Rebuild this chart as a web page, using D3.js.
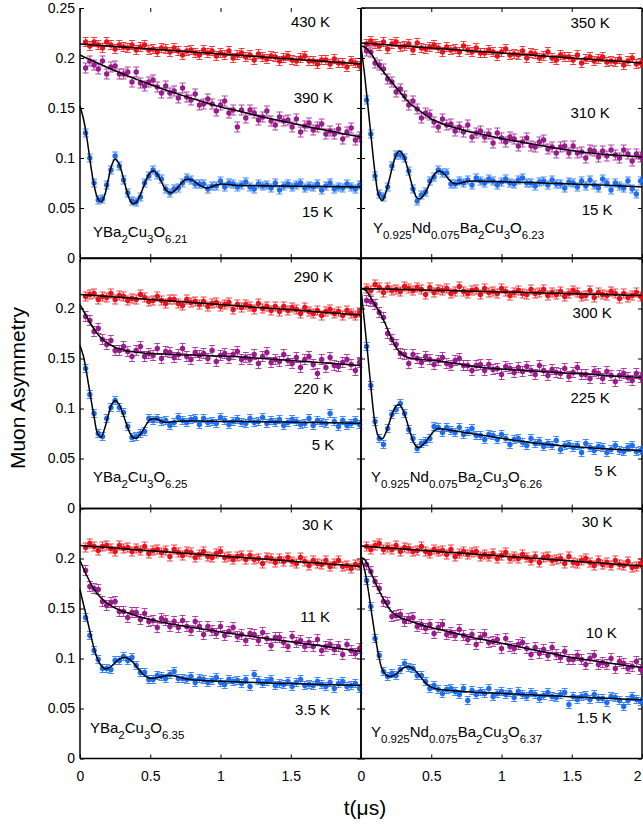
<!DOCTYPE html>
<meta charset="utf-8">
<style>
body { margin: 0; background: #fff; }
svg text { font-family: "Liberation Sans", Arial, Helvetica, sans-serif; fill: #000; }
.axis path { display: none; }
.axis line { stroke: #000; stroke-width: 1; }
.axis text { font-size: 14px; }
.frame { stroke: #000; stroke-width: 1.5; }
.fit { fill: none; stroke: #000; stroke-width: 1.5; }
.temp { font-size: 15px; }
.formula { font-size: 15px; }
.title { font-size: 21px; }
</style>
<svg width="643" height="831"></svg>
<script src="https://d3js.org/d3.v7.min.js"></script>
<script>

// time of each measured point (microseconds)
var dataTime = [0.04,0.07,0.10,0.13,0.16,0.19,0.22,0.25,0.28,0.31,0.34,0.37,0.40,0.43,0.46,0.49,0.52,0.55,0.58,0.61,0.64,0.67,0.70,0.73,0.76,0.79,0.82,0.85,0.88,0.91,0.94,0.97,1.00,1.03,1.06,1.09,1.12,1.15,1.18,1.21,1.24,1.27,1.30,1.33,1.36,1.39,1.42,1.45,1.48,1.51,1.54,1.57,1.60,1.63,1.66,1.69,1.72,1.75,1.78,1.81,1.84,1.87,1.90,1.93,1.96,1.99];
// time grids of the fitted curves
var fitTime = [0,.025,.05,.075,.1,.125,.15,.175,.2,.225,.25,.275,.3,.325,.35,.375,.4,.425,.45,.475,.5,.525,.55,.575,.6,.625,.65,.675,.7,.725,.75,.8,.85,.9,.95,1,1.1,1.2,1.3,1.4,1.5,1.6,1.7,1.8,1.9,2];
var fitTimeSlow = [0,.25,.5,.75,1,1.25,1.5,1.75,2];

var xTickValues = [0, 0.5, 1, 1.5, 2];
var xTickLabels = ["0", "0.5", "1", "1.5", "2"];
var yTickValues = [0, 0.05, 0.1, 0.15, 0.2, 0.25];
var yTickLabels = ["0", "0.05", "0.1", "0.15", "0.2", "0.25"];

var seriesColors = ["#e8141c", "#9b1b8e", "#1e6ff0"];
var errorHalf = [0.0045, 0.005, 0.004];

// ---- YBa2Cu3O6.21 ----
var redA = [.216,.212,.216,.213,.210,.216,.213,.209,.213,.211,.210,.213,.208,.211,.213,.208,.209,.206,.210,.209,.206,.210,.207,.203,.207,.208,.205,.203,.208,.205,.207,.202,.205,.203,.207,.200,.203,.205,.201,.203,.198,.204,.201,.199,.202,.201,.197,.200,.202,.198,.197,.200,.202,.197,.197,.194,.198,.198,.194,.199,.195,.195,.191,.197,.195,.192];
var purpleA = [.190,.197,.193,.189,.197,.184,.191,.192,.184,.184,.186,.176,.186,.175,.172,.176,.178,.171,.165,.172,.165,.167,.160,.170,.161,.158,.164,.153,.154,.159,.154,.147,.153,.157,.145,.148,.131,.148,.140,.148,.145,.138,.141,.147,.137,.133,.141,.137,.138,.131,.139,.126,.132,.135,.128,.131,.134,.124,.127,.124,.129,.119,.126,.130,.118,.121];
var blueA = [.125,.100,.075,.058,.059,.073,.088,.102,.092,.078,.065,.057,.056,.061,.075,.082,.088,.083,.079,.069,.065,.069,.070,.075,.080,.078,.074,.074,.074,.069,.072,.072,.077,.071,.075,.074,.071,.073,.076,.071,.069,.074,.072,.073,.070,.075,.068,.072,.074,.071,.073,.075,.070,.072,.071,.074,.068,.072,.075,.069,.071,.070,.074,.071,.069,.073];
var fitRedA = [.214,.2115,.209,.2065,.204,.2015,.199,.1965,.194];
var fitPurpleA = [.203,.2013,.1997,.1981,.1965,.195,.1934,.1918,.1903,.1888,.1873,.1859,.1844,.183,.1816,.1802,.1788,.1775,.1761,.1748,.1735,.1722,.171,.1697,.1685,.1673,.1661,.165,.1638,.1627,.1616,.1594,.1573,.1552,.1532,.151,.148,.1445,.141,.138,.135,.132,.129,.1265,.1235,.121];
var fitBlueA = [.152,.139,.119,.094,.073,.060,.056,.0625,.0775,.0925,.099,.095,.0845,.071,.0595,.0542,.0556,.0617,.0705,.0793,.0854,.0869,.0838,.0774,.0705,.0663,.0652,.0674,.0712,.0753,.0782,.0779,.0729,.070,.072,.074,.0728,.0724,.0722,.072,.0718,.0717,.0715,.0714,.0712,.071];
var tempsA = ["430 K", "390 K", "15 K"];
var formulaA = [["YBa",0],["2",1],["Cu",0],["3",1],["O",0],["6.21",1]];

// ---- Y0.925Nd0.075Ba2Cu3O6.23 ----
var redB = [.214,.217,.214,.212,.216,.209,.214,.216,.211,.212,.214,.208,.215,.210,.209,.211,.213,.210,.206,.211,.208,.209,.206,.212,.208,.206,.210,.205,.205,.208,.206,.202,.206,.209,.203,.204,.203,.207,.200,.205,.204,.200,.202,.206,.200,.198,.203,.201,.201,.198,.203,.195,.199,.201,.197,.199,.201,.196,.197,.196,.199,.193,.197,.200,.194,.195];
var purpleB = [.207,.206,.195,.193,.189,.179,.176,.166,.169,.162,.153,.157,.149,.140,.145,.143,.136,.131,.139,.133,.134,.127,.131,.126,.133,.121,.125,.127,.121,.124,.115,.125,.120,.116,.121,.119,.112,.116,.120,.112,.111,.116,.118,.109,.111,.105,.111,.112,.105,.112,.105,.106,.100,.108,.107,.101,.107,.102,.108,.103,.100,.108,.104,.097,.104,.101];
var blueB = [.158,.124,.082,.064,.061,.071,.092,.103,.103,.100,.087,.069,.057,.063,.066,.077,.081,.088,.085,.085,.074,.074,.077,.075,.078,.073,.080,.077,.075,.079,.077,.073,.076,.079,.075,.074,.078,.080,.075,.075,.072,.076,.077,.073,.078,.074,.074,.070,.076,.075,.071,.077,.072,.078,.073,.070,.079,.075,.068,.075,.072,.070,.077,.069,.064,.077];
var fitRedB = [.215,.2125,.210,.2075,.205,.2025,.200,.1975,.195];
var fitPurpleB = [.212,.211,.208,.204,.198,.192,.188,.1835,.179,.175,.1705,.1665,.162,.158,.1545,.1515,.149,.1465,.144,.1415,.139,.1375,.136,.1345,.133,.132,.131,.130,.129,.128,.127,.1255,.124,.1225,.121,.1195,.117,.1145,.112,.1095,.1075,.1055,.104,.103,.102,.101];
var fitBlueB = [.212,.184,.151,.117,.085,.063,.0575,.0648,.0776,.0919,.1029,.107,.1032,.0931,.0797,.0674,.060,.0595,.0634,.0702,.0779,.084,.0869,.0861,.0829,.0787,.0753,.074,.0746,.0756,.0766,.077,.0768,.0766,.0764,.0762,.0758,.0754,.075,.0745,.074,.0735,.073,.0725,.0718,.071];
var tempsB = ["350 K", "310 K", "15 K"];
var formulaB = [["Y",0],["0.925",1],["Nd",0],["0.075",1],["Ba",0],["2",1],["Cu",0],["3",1],["O",0],["6.23",1]];

// ---- YBa2Cu3O6.25 ----
var redC = [.212,.214,.215,.209,.212,.211,.215,.209,.213,.212,.208,.210,.209,.214,.211,.207,.208,.212,.208,.205,.209,.209,.205,.203,.209,.206,.207,.204,.207,.202,.205,.206,.202,.204,.206,.199,.204,.201,.204,.202,.199,.205,.200,.202,.198,.202,.197,.202,.198,.201,.199,.195,.201,.197,.195,.198,.193,.197,.199,.195,.197,.193,.198,.195,.193,.196];
var purpleC = [.192,.188,.177,.180,.169,.164,.168,.158,.158,.162,.157,.152,.158,.162,.152,.155,.153,.160,.150,.157,.156,.151,.154,.160,.152,.149,.156,.153,.155,.150,.158,.147,.153,.155,.150,.154,.157,.149,.151,.149,.154,.145,.152,.156,.146,.149,.147,.154,.148,.145,.151,.141,.149,.152,.144,.135,.149,.141,.151,.143,.142,.146,.149,.144,.138,.146];
var blueC = [.140,.114,.095,.075,.072,.090,.101,.108,.101,.096,.082,.071,.072,.075,.077,.090,.088,.090,.087,.088,.083,.086,.091,.088,.086,.089,.090,.084,.090,.086,.087,.085,.091,.088,.084,.087,.089,.086,.085,.090,.086,.087,.091,.085,.088,.086,.089,.083,.086,.089,.087,.084,.085,.090,.083,.088,.086,.085,.095,.087,.082,.088,.083,.085,.088,.084];
var fitRedC = [.214,.2115,.209,.2065,.204,.2013,.1987,.196,.1935];
var fitPurpleC = [.204,.1975,.191,.185,.1795,.1745,.1705,.1675,.165,.163,.161,.160,.159,.158,.157,.157,.156,.156,.1555,.155,.155,.155,.1545,.1545,.1545,.154,.154,.154,.154,.1535,.1535,.1535,.153,.153,.1525,.1525,.152,.151,.150,.149,.148,.147,.146,.145,.144,.143];
var fitBlueC = [.163,.152,.133,.112,.092,.075,.0713,.0798,.0927,.1039,.108,.1049,.097,.0867,.0771,.0711,.0703,.0734,.0788,.0846,.0889,.090,.0891,.0875,.0862,.0861,.0866,.087,.0873,.0875,.0875,.0875,.0874,.0873,.0872,.0871,.087,.0869,.0867,.0865,.0863,.0861,.0859,.0857,.0854,.0852];
var tempsC = ["290 K", "220 K", "5 K"];
var formulaC = [["YBa",0],["2",1],["Cu",0],["3",1],["O",0],["6.25",1]];

// ---- Y0.925Nd0.075Ba2Cu3O6.26 ----
var redD = [.220,.218,.224,.221,.216,.221,.218,.219,.217,.222,.220,.218,.221,.219,.214,.221,.216,.219,.218,.220,.215,.217,.222,.217,.215,.218,.219,.214,.220,.216,.217,.215,.220,.217,.213,.216,.218,.215,.214,.219,.215,.216,.219,.213,.216,.214,.217,.212,.215,.218,.216,.212,.213,.218,.211,.216,.214,.213,.217,.215,.210,.215,.211,.213,.216,.212];
var purpleD = [.208,.207,.204,.196,.191,.175,.169,.164,.155,.154,.145,.154,.150,.146,.152,.149,.144,.148,.151,.145,.143,.148,.150,.143,.143,.138,.143,.144,.138,.144,.139,.140,.134,.142,.140,.136,.141,.137,.142,.138,.134,.143,.138,.133,.139,.136,.135,.140,.132,.136,.141,.134,.134,.130,.137,.135,.130,.137,.133,.127,.133,.135,.131,.128,.135,.131];
var blueD = [.162,.123,.087,.070,.064,.080,.094,.099,.105,.095,.079,.070,.060,.065,.067,.070,.082,.081,.076,.081,.078,.076,.081,.074,.077,.080,.073,.073,.069,.074,.073,.069,.074,.070,.064,.069,.070,.066,.063,.070,.065,.067,.062,.065,.063,.068,.059,.063,.064,.061,.063,.056,.065,.061,.058,.062,.061,.056,.059,.063,.058,.057,.061,.063,.057,.058];
var fitRedD = [.220,.2192,.2183,.2175,.2166,.2157,.2148,.214,.213];
var fitPurpleD = [.220,.219,.2155,.2095,.2035,.198,.1915,.184,.1755,.1675,.161,.1565,.1535,.1515,.1505,.150,.1495,.149,.1488,.1485,.1482,.1479,.1476,.1473,.1465,.146,.1455,.145,.1445,.1438,.1432,.142,.1412,.1406,.140,.1395,.1386,.1377,.1368,.136,.1352,.1344,.1335,.1326,.1318,.131];
var fitBlueD = [.220,.186,.151,.115,.085,.072,.0695,.0752,.0852,.0956,.1026,.1036,.098,.0877,.0759,.066,.0612,.0618,.0648,.0694,.0743,.0782,.080,.0796,.079,.0785,.078,.0774,.0769,.0763,.0757,.0745,.0734,.0724,.0713,.0702,.0681,.0661,.0644,.0631,.0619,.0609,.060,.0592,.0585,.0578];
var tempsD = ["300 K", "225 K", "5 K"];
var formulaD = [["Y",0],["0.925",1],["Nd",0],["0.075",1],["Ba",0],["2",1],["Cu",0],["3",1],["O",0],["6.26",1]];

// ---- YBa2Cu3O6.35 ----
var redE = [.211,.215,.212,.208,.212,.213,.210,.207,.213,.210,.211,.207,.210,.208,.212,.205,.208,.209,.206,.208,.202,.209,.206,.203,.207,.206,.201,.204,.207,.202,.201,.205,.207,.201,.202,.199,.202,.203,.199,.203,.199,.200,.195,.201,.200,.196,.200,.197,.201,.197,.195,.201,.197,.193,.198,.195,.194,.198,.192,.195,.198,.192,.193,.190,.194,.193];
var purpleE = [.188,.172,.170,.169,.157,.153,.156,.157,.147,.147,.141,.146,.146,.139,.145,.137,.138,.131,.140,.138,.132,.137,.131,.138,.132,.128,.137,.132,.124,.132,.128,.125,.132,.123,.127,.131,.122,.124,.118,.125,.124,.118,.126,.120,.113,.121,.121,.116,.112,.122,.116,.118,.112,.116,.112,.119,.108,.112,.114,.109,.112,.104,.114,.108,.105,.110];
var blueE = [.141,.123,.108,.099,.090,.090,.089,.098,.098,.102,.098,.101,.093,.086,.086,.079,.079,.083,.082,.080,.084,.087,.080,.080,.079,.082,.076,.080,.079,.076,.078,.081,.076,.074,.079,.077,.078,.075,.079,.072,.084,.078,.075,.077,.079,.073,.075,.074,.077,.072,.076,.079,.073,.074,.073,.077,.074,.072,.076,.070,.075,.077,.072,.073,.075,.070];
var fitRedE = [.213,.2104,.2078,.2052,.2026,.2000,.1974,.1948,.192];
var fitPurpleE = [.198,.190,.1825,.1755,.1695,.1645,.1605,.1573,.1546,.1524,.1505,.1489,.1475,.1462,.145,.1439,.1428,.1418,.1408,.1399,.139,.1382,.1374,.1366,.1359,.1352,.1345,.1339,.1333,.1327,.1321,.131,.1299,.1289,.1279,.1265,.1245,.1225,.1205,.1186,.1167,.1148,.1129,.111,.109,.107];
var fitBlueE = [.169,.154,.1395,.1245,.110,.0995,.093,.0898,.0902,.0925,.0958,.0988,.1007,.101,.0995,.0965,.0925,.088,.084,.0815,.0803,.0802,.0808,.0817,.0825,.083,.083,.0825,.0816,.0806,.0798,.0788,.0782,.0778,.0775,.0772,.0767,.0762,.0757,.0753,.0749,.0745,.0741,.0737,.0734,.073];
var tempsE = ["30 K", "11 K", "3.5 K"];
var formulaE = [["YBa",0],["2",1],["Cu",0],["3",1],["O",0],["6.35",1]];

// ---- Y0.925Nd0.075Ba2Cu3O6.37 ----
var redF = [.212,.209,.213,.215,.209,.211,.209,.213,.207,.211,.210,.207,.208,.212,.207,.205,.209,.207,.208,.204,.209,.202,.205,.207,.204,.206,.207,.202,.204,.202,.205,.200,.203,.206,.200,.202,.200,.204,.201,.198,.202,.196,.201,.202,.198,.199,.200,.195,.202,.196,.195,.198,.200,.196,.193,.198,.194,.196,.193,.198,.194,.193,.197,.191,.192,.195];
var purpleF = [.194,.187,.177,.170,.157,.156,.142,.143,.144,.137,.140,.141,.132,.134,.130,.134,.125,.131,.134,.124,.126,.123,.129,.123,.119,.124,.114,.121,.124,.116,.117,.119,.110,.120,.112,.110,.114,.116,.110,.104,.111,.105,.109,.103,.111,.104,.101,.107,.099,.099,.103,.099,.094,.100,.103,.094,.096,.094,.100,.090,.097,.095,.090,.092,.097,.089];
var blueF = [.178,.152,.120,.103,.087,.082,.085,.083,.089,.095,.091,.090,.083,.083,.077,.070,.073,.069,.065,.069,.070,.067,.064,.070,.058,.068,.064,.067,.065,.070,.062,.065,.067,.064,.066,.061,.067,.064,.062,.066,.064,.060,.063,.066,.062,.061,.064,.066,.054,.062,.059,.062,.063,.059,.064,.060,.060,.056,.062,.061,.058,.052,.058,.062,.059,.057];
var fitRedF = [.2125,.210,.2075,.205,.2025,.200,.1975,.195,.1925];
var fitPurpleF = [.201,.199,.1925,.1845,.1765,.169,.162,.1555,.150,.146,.1432,.1413,.1398,.1386,.1374,.1362,.135,.1339,.1328,.1318,.1309,.130,.1292,.1284,.1276,.1268,.126,.1252,.1243,.1235,.1226,.1208,.1194,.118,.1166,.1153,.1125,.1095,.1066,.1038,.101,.0988,.0967,.0947,.0928,.091];
var fitBlueF = [.201,.189,.170,.146,.123,.1035,.0895,.084,.082,.0825,.0845,.0875,.0903,.0918,.0915,.0895,.086,.0815,.077,.0736,.0713,.070,.0693,.0688,.0684,.0681,.0678,.0675,.0672,.067,.0667,.0663,.0659,.0656,.0653,.065,.0644,.0637,.063,.0624,.0617,.0611,.0605,.0599,.0593,.0588];
var tempsF = ["30 K", "10 K", "1.5 K"];
var formulaF = [["Y",0],["0.925",1],["Nd",0],["0.075",1],["Ba",0],["2",1],["Cu",0],["3",1],["O",0],["6.37",1]];

// layout
var colX = [80, 361], panelW = 281;
var rowY = [8, 258.5, 508.5], panelH = 250;

var panels = [
  {row: 0, col: 0, series: [redA, purpleA, blueA], fits: [fitRedA, fitPurpleA, fitBlueA],
   temps: tempsA, tempAt: [[1.78, .231], [1.80, .155], [1.80, .041]], formula: formulaA, formulaAt: [.093, .021]},
  {row: 0, col: 1, series: [redB, purpleB, blueB], fits: [fitRedB, fitPurpleB, fitBlueB],
   temps: tempsB, tempAt: [[1.77, .230], [1.77, .140], [1.79, .043]], formula: formulaB, formulaAt: [.085, .025]},
  {row: 1, col: 0, series: [redC, purpleC, blueC], fits: [fitRedC, fitPurpleC, fitBlueC],
   temps: tempsC, tempAt: [[1.80, .2265], [1.80, .1145], [1.81, .0585]], formula: formulaC, formulaAt: [.093, .0265]},
  {row: 1, col: 1, series: [redD, purpleD, blueD], fits: [fitRedD, fitPurpleD, fitBlueD],
   temps: tempsD, tempAt: [[1.785, .1905], [1.77, .1055], [1.82, .0325]], formula: formulaD, formulaAt: [.071, .0265]},
  {row: 2, col: 0, series: [redE, purpleE, blueE], fits: [fitRedE, fitPurpleE, fitBlueE],
   temps: tempsE, tempAt: [[1.80, .2285], [1.78, .1365], [1.78, .0435]], formula: formulaE, formulaAt: [.071, .0255]},
  {row: 2, col: 1, series: [redF, purpleF, blueF], fits: [fitRedF, fitPurpleF, fitBlueF],
   temps: tempsF, tempAt: [[1.79, .2315], [1.82, .1205], [1.785, .0355]], formula: formulaF, formulaAt: [.071, .0215]}
];

var svg = d3.select("svg");

panels.forEach(function(p) {
  var x0 = colX[p.col], y0 = rowY[p.row];
  var x = d3.scaleLinear().domain([0, 2]).range([x0, x0 + panelW]);
  var y = d3.scaleLinear().domain([0, 0.25]).range([y0 + panelH, y0]);
  var g = svg.append("g");

  // inward ticks on all four sides
  var yLab = p.row === 0 ? yTickValues : yTickValues.slice(0, 5);
  g.append("g").attr("class", "axis")
    .attr("transform", "translate(" + x0 + ",0)")
    .call(d3.axisLeft(y).tickValues(yLab).tickSize(-4).tickPadding(5)
      .tickFormat(function(d) { return p.col === 0 ? yTickLabels[yTickValues.indexOf(d)] : ""; }));
  g.append("g").attr("class", "axis")
    .attr("transform", "translate(" + (x0 + panelW) + ",0)")
    .call(d3.axisRight(y).tickValues(yTickValues).tickSize(-4).tickFormat(""));
  var xLab = p.col === 0 ? xTickValues.slice(0, 4) : xTickValues;
  var xAxis = g.append("g").attr("class", "axis")
    .attr("transform", "translate(0," + (y0 + panelH) + ")")
    .call(d3.axisBottom(x).tickValues(xLab).tickSize(-4).tickPadding(13)
      .tickFormat(function(d) { return p.row === 2 ? xTickLabels[xTickValues.indexOf(d)] : ""; }));
  // the last label sits on the page edge: keep it inside
  xAxis.selectAll(".tick text").filter(function(d) { return d === 2; })
    .attr("text-anchor", "end").attr("dx", -1);
  g.append("g").attr("class", "axis")
    .attr("transform", "translate(0," + y0 + ")")
    .call(d3.axisTop(x).tickValues(xTickValues).tickSize(-4).tickFormat(""));

  // frame
  var edges = [
    [x0, y0, x0, y0 + panelH],
    [x0 + panelW, y0, x0 + panelW, y0 + panelH],
    [x0, y0 + panelH, x0 + panelW, y0 + panelH]
  ];
  if (!(p.row === 0 && p.col === 0)) edges.push([x0, y0, x0 + panelW, y0]);
  g.selectAll("line.frame").data(edges).enter().append("line")
    .attr("class", "frame")
    .attr("x1", function(d) { return d[0]; }).attr("y1", function(d) { return d[1]; })
    .attr("x2", function(d) { return d[2]; }).attr("y2", function(d) { return d[3]; });

  // data points with error bars
  p.series.forEach(function(vals, si) {
    var pts = d3.zip(dataTime, vals);
    var e = errorHalf[si], c = seriesColors[si];
    g.append("g").selectAll("path").data(pts).enter().append("path")
      .attr("d", function(d) {
        var px = x(d[0]), ya = y(d[1] + e), yb = y(d[1] - e);
        return "M" + (px - 3) + "," + ya + "H" + (px + 3) +
               "M" + px + "," + ya + "V" + yb +
               "M" + (px - 3) + "," + yb + "H" + (px + 3);
      })
      .attr("stroke", c).attr("stroke-width", 1).attr("stroke-opacity", 0.8).attr("fill", "none");
    g.append("g").selectAll("circle").data(pts).enter().append("circle")
      .attr("cx", function(d) { return x(d[0]); })
      .attr("cy", function(d) { return y(d[1]); })
      .attr("r", 2.7)
      .attr("fill", c);
  });

  // fitted curves
  var line = d3.line()
    .x(function(d) { return x(d[0]); })
    .y(function(d) { return y(d[1]); })
    .curve(d3.curveCatmullRom.alpha(0.5));
  p.fits.forEach(function(vals, si) {
    var ts = si === 0 ? fitTimeSlow : fitTime;
    g.append("path").attr("class", "fit").attr("d", line(d3.zip(ts, vals)));
  });

  // temperature labels
  p.temps.forEach(function(t, i) {
    g.append("text").attr("class", "temp")
      .attr("x", x(p.tempAt[i][0])).attr("y", y(p.tempAt[i][1]))
      .attr("text-anchor", "end").text(t);
  });

  // compound formula with subscripts
  var ft = g.append("text").attr("class", "formula")
    .attr("x", x(p.formulaAt[0])).attr("y", y(p.formulaAt[1]));
  var shifted = false;
  p.formula.forEach(function(part) {
    var sub = part[1] === 1;
    var dy = sub === shifted ? 0 : (sub ? 6 : -6);
    shifted = sub;
    ft.append("tspan").attr("dy", dy)
      .style("font-size", sub ? "11.5px" : "15px")
      .text(part[0]);
  });
});

// axis titles
svg.append("text").attr("class", "title")
  .attr("transform", "translate(25,388) rotate(-90)")
  .attr("text-anchor", "middle").text("Muon Asymmetry");
svg.append("text").attr("class", "title")
  .attr("x", 365).attr("y", 815)
  .attr("text-anchor", "middle").text("t(\u03bcs)");

</script>
